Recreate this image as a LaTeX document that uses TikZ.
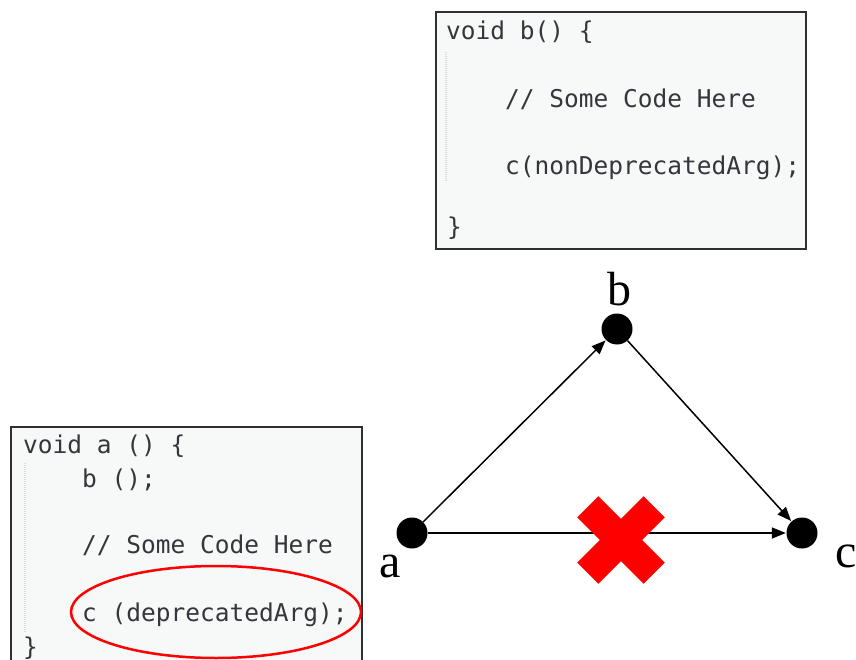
\documentclass[tikz,border=0pt]{standalone}
\usepackage{fontspec}
\setmainfont{Liberation Serif}
\newfontfamily\codefont{DejaVu Sans Mono}
\usetikzlibrary{arrows.meta}
\definecolor{codebg}{HTML}{F7F8F8}
\definecolor{codetext}{HTML}{33373B}
\definecolor{guide}{HTML}{DADCDC}
\definecolor{boxline}{HTML}{303030}
\tikzset{
  codeline/.style={anchor=base west, inner sep=0pt, font=\codefont\fontsize{24.5}{28}\selectfont, text=codetext},
  vertex/.style={circle, fill=black, minimum size=31pt, inner sep=0pt},
  vlabel/.style={inner sep=0pt, font=\fontsize{48}{52}\selectfont},
  edge/.style={line width=1.5pt, -{Triangle[length=14pt,width=11pt]}, shorten >=0.5pt},
  guideline/.style={draw=guide, line width=1.5pt, dash pattern=on 1pt off 1pt},
  codebox/.style={fill=codebg, draw=boxline, line width=1.5pt}
}
\begin{document}
\begin{tikzpicture}[x=1pt,y=-1pt]
\useasboundingbox (0,0) rectangle (856,660);

% code of b()
\path[codebox] (436,12) rectangle (806,249);
\draw[guideline] (446,52) -- (446,182);
\node[codeline] (b1) at (446,40) {void b() \{};
\node[codeline] (b2) at (505,108) {// Some Code Here};
\node[codeline] (b3) at (505,175) {c(nonDeprecatedArg);};
\node[codeline] (b4) at (447,236) {\}};

% code of a()
\fill[codebg] (11,427) rectangle (362,661);
\draw[boxline, line width=1.5pt] (11,661) -- (11,427) -- (362,427) -- (362,661);
\draw[guideline] (25,463) -- (25,632);
\node[codeline] (a1) at (23,453) {void a () \{};
\node[codeline] (a2) at (82,487) {b ();};
\node[codeline] (a3) at (82,553) {// Some Code Here};
\node[codeline] (a4) at (82,621) {c (deprecatedArg);};
\node[codeline] (a5) at (23,655) {\}};
\draw[red, line width=2.5pt] (216,612) ellipse [x radius=145pt, y radius=46pt];

% call graph
\node[vertex] (a) at (412,533) {};
\node[vertex] (b) at (617,329) {};
\node[vertex] (c) at (802,533) {};
\node[vlabel] (la) at (390,566) {a};
\node[vlabel] (lb) at (619,289) {b};
\node[vlabel] (lc) at (846,556) {c};

\draw[edge] (a) -- (b);
\draw[edge] (b) -- (c);
\draw[edge] (a) -- (c);

% red cross over the direct call
\begin{scope}[shift={(621,540)}]
  \fill[red, rotate=45] (-47,-15) rectangle (47,15);
  \fill[red, rotate=-45] (-47,-15) rectangle (47,15);
\end{scope}
\end{tikzpicture}
\end{document}
